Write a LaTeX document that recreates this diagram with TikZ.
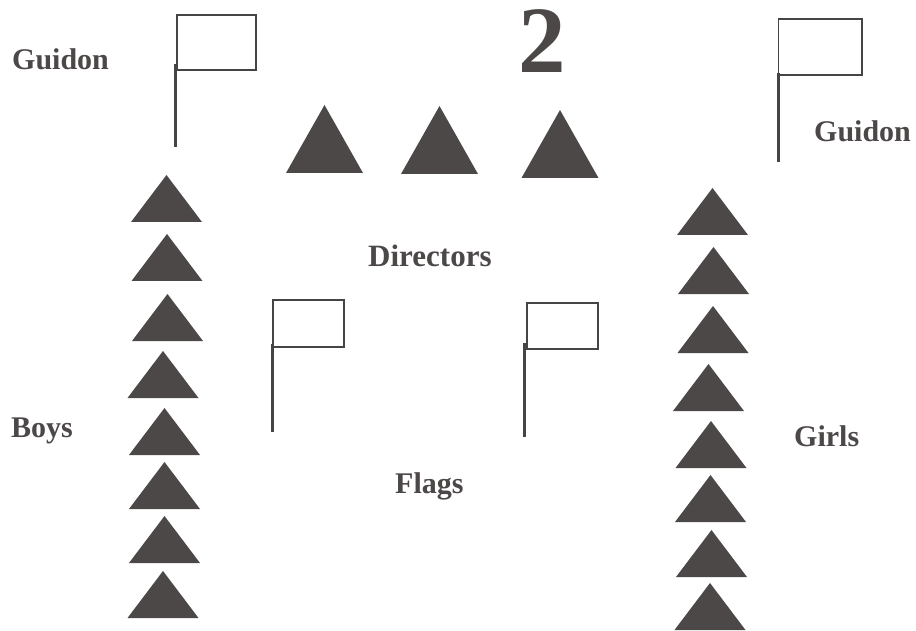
\documentclass[tikz,border=0pt]{standalone}
\usepackage{fontspec}
\setmainfont{Liberation Serif}
\definecolor{inkgray}{RGB}{76,72,72}
\definecolor{linegray}{RGB}{70,68,68}
\tikzset{
  lbl/.style={font=\bfseries\fontsize{30}{36}\selectfont, text=inkgray, inner sep=0pt, anchor=base west},
  bignum/.style={font=\bfseries\fontsize{95}{100}\selectfont, text=inkgray, inner sep=0pt, anchor=base west},
  flagline/.style={draw=linegray, line width=1.9pt},
  polestyle/.style={draw=linegray, line width=2.2pt},
  smalltri/.pic={\fill[inkgray] (-35.5,0) -- (0,-47) -- (35.5,0) -- cycle;},
  bigtri/.pic={\fill[inkgray] (-38.5,0) -- (0,-68) -- (38.5,0) -- cycle;}
}
\begin{document}
\begin{tikzpicture}[x=1pt,y=-1pt]
\useasboundingbox[fill=white] (0,0) rectangle (916,631);

% texts
\node[lbl] (guidonL) at (12,70) {Guidon};
\node[lbl] (guidonR) at (814,142) {Guidon};
\node[lbl,font=\bfseries\fontsize{31}{36}\selectfont] (directors) at (368,266) {Directors};
\node[lbl] (boys) at (11,437) {Boys};
\node[lbl] (flags) at (395,493) {Flags};
\node[lbl] (girls) at (794,446) {Girls};
\node[bignum] (two) at (518,73) {2};

% directors (top row)
\pic at (324.5,173) {bigtri};
\pic at (439.5,174) {bigtri};
\pic at (560,178) {bigtri};

% boys column
\foreach \x/\y in {166.5/222, 167/281, 167.5/341, 163/398, 164.5/455, 164.5/509, 164.5/563, 163/618}
  \pic at (\x,\y) {smalltri};

% girls column
\foreach \x/\y in {712.5/235, 713.5/294, 713/353, 708.5/411, 711/468, 710.5/522, 711.5/577, 710/630}
  \pic at (\x,\y) {smalltri};

% guidon left
\draw[flagline] (177,15) rectangle (256,70);
\draw[polestyle] (175.5,64) -- (175.5,147);
% guidon right
\draw[flagline] (778.5,19) rectangle (862,75);
\draw[polestyle] (778.5,73) -- (778.5,162);
% middle flags
\draw[flagline] (273,300) rectangle (344,347);
\draw[polestyle] (272.5,344) -- (272.5,432);
\draw[flagline] (527,303) rectangle (598,349);
\draw[polestyle] (524.5,343) -- (524.5,437);
\end{tikzpicture}
\end{document}
